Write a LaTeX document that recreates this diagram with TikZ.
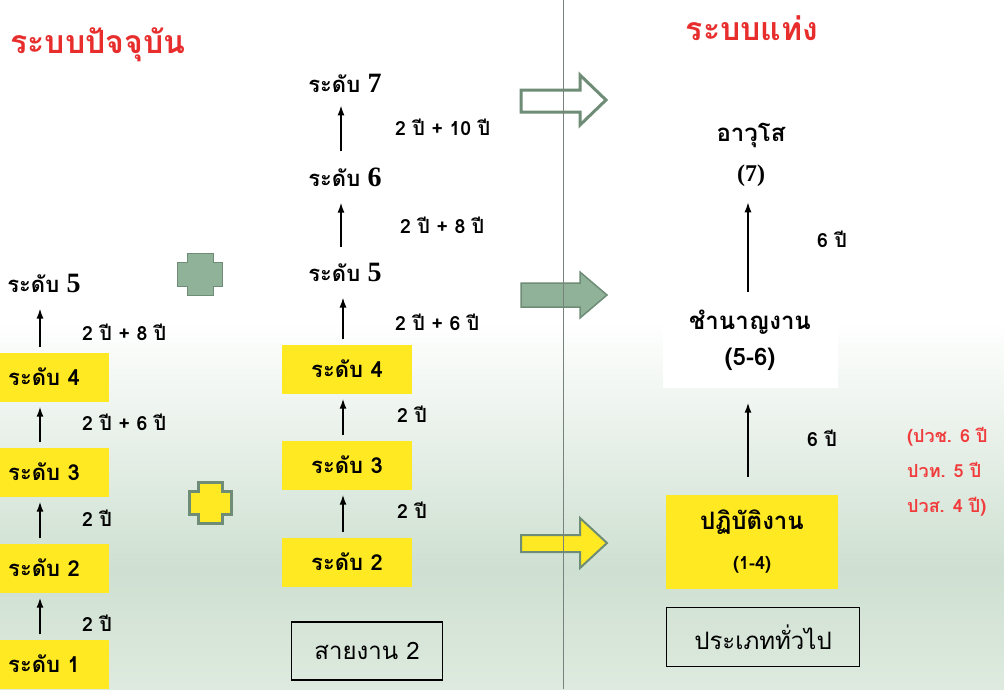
\documentclass[tikz,border=0pt]{standalone}
\usepackage{fontspec}
\setmainfont[Script=Thai]{Loma}
\newfontfamily\serifnum{Liberation Serif}
\usetikzlibrary{arrows.meta}

\newcommand{\bignum}[1]{{\serifnum\bfseries\fontsize{28}{30}\selectfont #1}}

\tikzset{
  lvlbox/.style={fill=boxyellow,minimum width=130pt,minimum height=49pt,inner sep=0pt,font=\fontsize{22}{26}\selectfont\bfseries},
  lvltext/.style={inner xsep=0pt,inner ysep=11pt,font=\fontsize{22}{26}\selectfont\bfseries},
  yrs/.style={anchor=west,inner sep=0pt,font=\fontsize{19.5}{23}\selectfont\bfseries},
  namebox/.style={draw=black,line width=1.2pt,inner sep=0pt,font=\fontsize{24}{28}\selectfont},
  headline/.style={text=titlered,font=\fontsize{32}{36}\selectfont\bfseries},
  uparrow/.style={line width=1.5pt,-{Latex[length=10pt,width=7pt]},shorten <=5pt,shorten >=5pt},
}

\begin{document}
\begin{tikzpicture}[x=1pt,y=-1pt]
\definecolor{boxyellow}{RGB}{255,233,35}
\definecolor{titlered}{RGB}{232,45,45}
\definecolor{notered}{RGB}{240,60,60}
\definecolor{bggreen}{RGB}{206,224,209}
\definecolor{bglight}{RGB}{222,234,223}
\definecolor{plusgreen}{RGB}{143,178,152}
\definecolor{plusedge}{RGB}{110,140,118}
\definecolor{divider}{RGB}{120,130,125}
\useasboundingbox (0,0) rectangle (1004,689);
\clip (0,0) rectangle (1004,689);
% background
\fill[white] (0,0) rectangle (1004,320);
\shade[top color=white,bottom color=bggreen] (0,320) rectangle (1004,570);
\shade[top color=bggreen,bottom color=bglight] (0,570) rectangle (1004,689);
% current system
\node[headline] (curtitle) at (98,45) {ระบบปัจจุบัน};
\node[lvltext] (la5) at (44,283) {ระดับ \bignum{5}};
\node[lvlbox] (la4) at (44,377) {ระดับ 4};
\node[lvlbox] (la3) at (44,472) {ระดับ 3};
\node[lvlbox] (la2) at (44,568) {ระดับ 2};
\node[lvlbox] (la1) at (44,664) {ระดับ 1};
\draw[uparrow] ([xshift=-4pt]la4.north) -- ([xshift=-4pt]la4.north |- la5.south);
\draw[uparrow] ([xshift=-4pt]la3.north) -- ([xshift=-4pt]la3.north |- la4.south);
\draw[uparrow] ([xshift=-4pt]la2.north) -- ([xshift=-4pt]la2.north |- la3.south);
\draw[uparrow] ([xshift=-4pt]la1.north) -- ([xshift=-4pt]la1.north |- la2.south);
\node[yrs] (ya5) at (82,332) {2 ปี + 8 ปี};
\node[yrs] (ya4) at (82,422) {2 ปี + 6 ปี};
\node[yrs] (ya3) at (82,518) {2 ปี};
\node[yrs] (ya2) at (82,623) {2 ปี};
% plus signs
\draw[fill=plusgreen,draw=plusedge,line width=1pt] (187,253) -- (213,253) -- (213,262) -- (222,262) -- (222,286) -- (213,286) -- (213,295) -- (187,295) -- (187,286) -- (177,286) -- (177,262) -- (187,262) -- cycle;
\draw[fill=boxyellow,draw=plusedge,line width=3pt] (198,482) -- (222,482) -- (222,491) -- (231,491) -- (231,514) -- (222,514) -- (222,523) -- (198,523) -- (198,514) -- (189,514) -- (189,491) -- (198,491) -- cycle;
% line 2
\node[lvltext] (mb7) at (345,83) {ระดับ \bignum{7}};
\node[lvltext] (mb6) at (345,177) {ระดับ \bignum{6}};
\node[lvltext] (mb5) at (345,272) {ระดับ \bignum{5}};
\node[lvlbox] (mb4) at (347,369) {ระดับ 4};
\node[lvlbox] (mb3) at (347,465) {ระดับ 3};
\node[lvlbox] (mb2) at (347,562) {ระดับ 2};
\node[namebox,minimum width=151pt,minimum height=58pt] (line2) at (367,651) {สายงาน 2};
\draw[uparrow,shorten >=2pt] ([xshift=-4pt]mb6.north) -- ([xshift=-4pt]mb6.north |- mb7.south);
\draw[uparrow] ([xshift=-4pt]mb5.north) -- ([xshift=-4pt]mb5.north |- mb6.south);
\draw[uparrow] ([xshift=-4pt]mb4.north) -- ([xshift=-4pt]mb4.north |- mb5.south);
\draw[uparrow] ([xshift=-4pt]mb3.north) -- ([xshift=-4pt]mb3.north |- mb4.south);
\draw[uparrow] ([xshift=-4pt]mb2.north) -- ([xshift=-4pt]mb2.north |- mb3.south);
\node[yrs] (yb7) at (395,127) {2 ปี + 10 ปี};
\node[yrs] (yb6) at (400,225) {2 ปี + 8 ปี};
\node[yrs] (yb5) at (395,322) {2 ปี + 6 ปี};
\node[yrs] (yb4) at (397,414) {2 ปี};
\node[yrs] (yb3) at (397,510) {2 ปี};
% block arrows
\draw[fill=white,draw=plusedge,line width=3pt] (521,90) -- (580,90) -- (580,75) -- (606,100) -- (580,125) -- (580,112) -- (521,112) -- cycle;
\draw[fill=plusgreen,draw=plusedge,line width=1.5pt] (521,283) -- (580,283) -- (580,272) -- (607,295) -- (580,318) -- (580,307) -- (521,307) -- cycle;
\draw[fill=boxyellow,draw=plusedge,line width=2pt] (521,535) -- (580,535) -- (580,518) -- (607,543) -- (580,568) -- (580,552) -- (521,552) -- cycle;
\draw[divider,line width=1pt] (563,0) -- (563,689);
% bar system
\node[headline] (bartitle) at (752,28) {ระบบแท่ง};
\node[align=center,font=\fontsize{24}{40}\selectfont\bfseries] (rsenior) at (751,155) {อาวุโส\\{\serifnum(7)}};
\node[fill=white,minimum width=175pt,minimum height=95pt,align=center,font=\fontsize{24}{36}\selectfont\bfseries] (rexpert) at (750,340) {ชำนาญงาน\\(5-6)};
\node[fill=boxyellow,minimum width=172pt,minimum height=94pt,align=center,font=\fontsize{24}{40}\selectfont\bfseries] (rprac) at (752,542) {ปฏิบัติงาน\\{\fontsize{18}{20}\selectfont(1-4)}};
\node[namebox,minimum width=193pt,minimum height=59pt] (rgeneral) at (763,637) {ประเภททั่วไป};
\draw[uparrow,shorten <=0pt,shorten >=12pt] ([xshift=-2pt]rexpert.north) -- ([xshift=-2pt]rexpert.north |- rsenior.south);
\draw[uparrow,shorten <=18pt,shorten >=15pt] ([xshift=-4pt]rprac.north) -- ([xshift=-4pt]rprac.north |- rexpert.south);
\node[yrs] (yr7) at (817,239) {6 ปี};
\node[yrs] (yr56) at (807,438) {6 ปี};
\node[anchor=west,align=left,inner sep=0pt,text=notered,font=\fontsize{18}{35}\selectfont\bfseries] (notes) at (907,472) {(ปวช. 6 ปี\\ปวท. 5 ปี\\ปวส. 4 ปี)};
\end{tikzpicture}
\end{document}
